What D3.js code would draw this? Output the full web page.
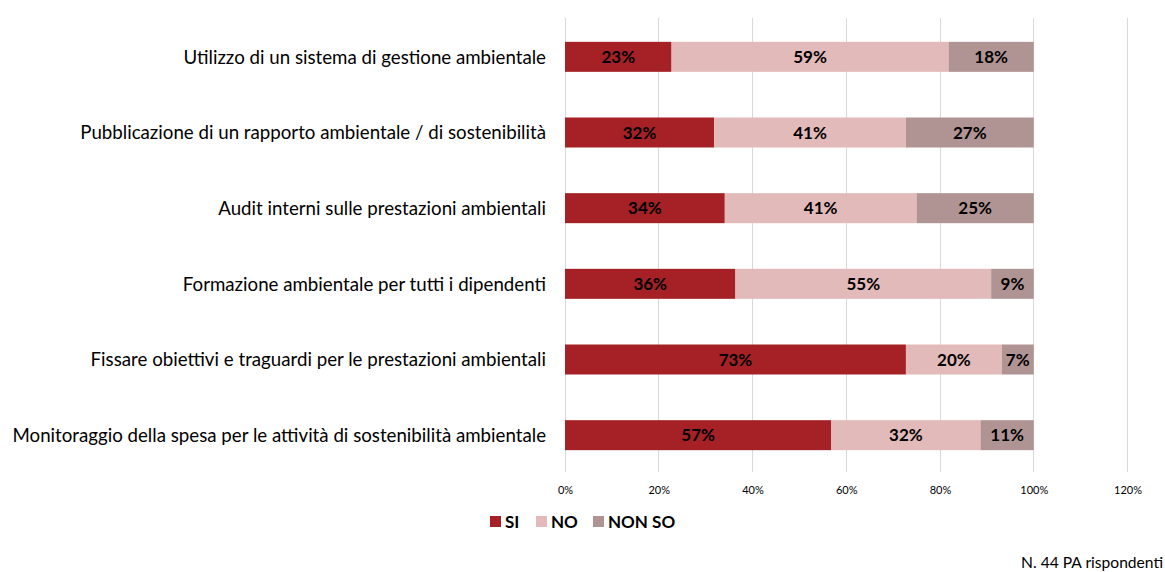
<!DOCTYPE html>
<html><head><meta charset="utf-8">
<script src="https://cdn.jsdelivr.net/npm/d3@7"></script>
<style>body{margin:0;background:#fff;} svg{display:block;font-family:Lato,"Open Sans",sans-serif;}</style>
</head><body>
<svg id="c" width="1165" height="572"></svg>
<script>
const categories = [
  "Utilizzo di un sistema di gestione ambientale",
  "Pubblicazione di un rapporto ambientale / di sostenibilità",
  "Audit interni sulle prestazioni ambientali",
  "Formazione ambientale per tutti i dipendenti",
  "Fissare obiettivi e traguardi per le prestazioni ambientali",
  "Monitoraggio della spesa per le attività di sostenibilità ambientale"
];
const seriesNames = ["SI", "NO", "NON SO"];
const siValues    = [22.73, 31.82, 34.09, 36.36, 72.73, 56.82];
const noValues    = [59.09, 40.91, 40.91, 54.55, 20.45, 31.82];
const nonsoValues = [18.18, 27.27, 25.00, 9.09, 6.82, 11.36];
const tickValues = [0, 20, 40, 60, 80, 100, 120];
const colors = ["#A52125", "#E3BABA", "#B09494"];
const note = "N. 44 PA rispondenti";

const svg = d3.select("#c");
const x = d3.scaleLinear().domain([0, 120]).range([565, 1127.5]);
const y = d3.scaleBand().domain(categories).range([19, 473]).paddingInner(0.6).paddingOuter(0.3);

svg.append("g").selectAll("line").data(tickValues).join("line")
  .attr("x1", d => x(d)).attr("x2", d => x(d))
  .attr("y1", 18).attr("y2", 472)
  .attr("stroke", "#D9D9D9").attr("stroke-width", 1)
  .attr("shape-rendering", "crispEdges");

const axis = d3.axisBottom(x).tickValues(tickValues).tickFormat(d => d + "%").tickSize(0).tickPadding(0);
const ag = svg.append("g").attr("transform", "translate(0,494)").call(axis);
ag.select(".domain").remove();
ag.selectAll("text").attr("font-family", "Lato").attr("font-size", 11).attr("fill", "#000").attr("dy", "0");

const series = [siValues, noValues, nonsoValues];
const rows = categories.map((c, i) => ({cat: c, vals: series.map(s => s[i])}));
const stack = d3.stack().keys([0,1,2]).value((d, k) => d.vals[k]);
const stacked = stack(rows);

const bh = 30;
stacked.forEach((layer, k) => {
  const g = svg.append("g");
  g.selectAll("rect").data(layer).join("rect")
    .attr("x", d => x(d[0]))
    .attr("width", d => x(d[1]) - x(d[0]))
    .attr("y", d => y(d.data.cat) + y.bandwidth()/2 - bh/2)
    .attr("height", bh)
    .attr("fill", colors[k]);
  g.selectAll("text").data(layer).join("text")
    .attr("x", d => (x(d[0]) + x(d[1]))/2)
    .attr("y", d => y(d.data.cat) + y.bandwidth()/2)
    .attr("dy", "0.36em")
    .attr("text-anchor", "middle")
    .attr("font-size", 17).attr("font-weight", "bold").attr("fill", "#000")
    .text(d => Math.round(d[1] - d[0]) + "%");
});

svg.append("g").selectAll("text").data(categories).join("text")
  .attr("x", 546)
  .attr("y", d => y(d) + y.bandwidth()/2)
  .attr("dy", "0.36em")
  .attr("text-anchor", "end")
  .attr("font-size", 18.7).attr("fill", "#000")
  .text(d => d);

const legX = [490, 536, 593];
const lg = svg.append("g").selectAll("g").data(seriesNames).join("g")
  .attr("transform", (d, i) => `translate(${legX[i]},516)`);
lg.append("rect").attr("width", 11).attr("height", 11).attr("fill", (d, i) => colors[i]);
lg.append("text").attr("x", 15).attr("y", 5.5).attr("dy", "0.36em")
  .attr("font-size", 17).attr("font-weight", "bold").text(d => d);

svg.append("text").attr("x", 1163).attr("y", 568).attr("text-anchor", "end")
  .attr("font-size", 15.6).text(note);
</script>
</body></html>
